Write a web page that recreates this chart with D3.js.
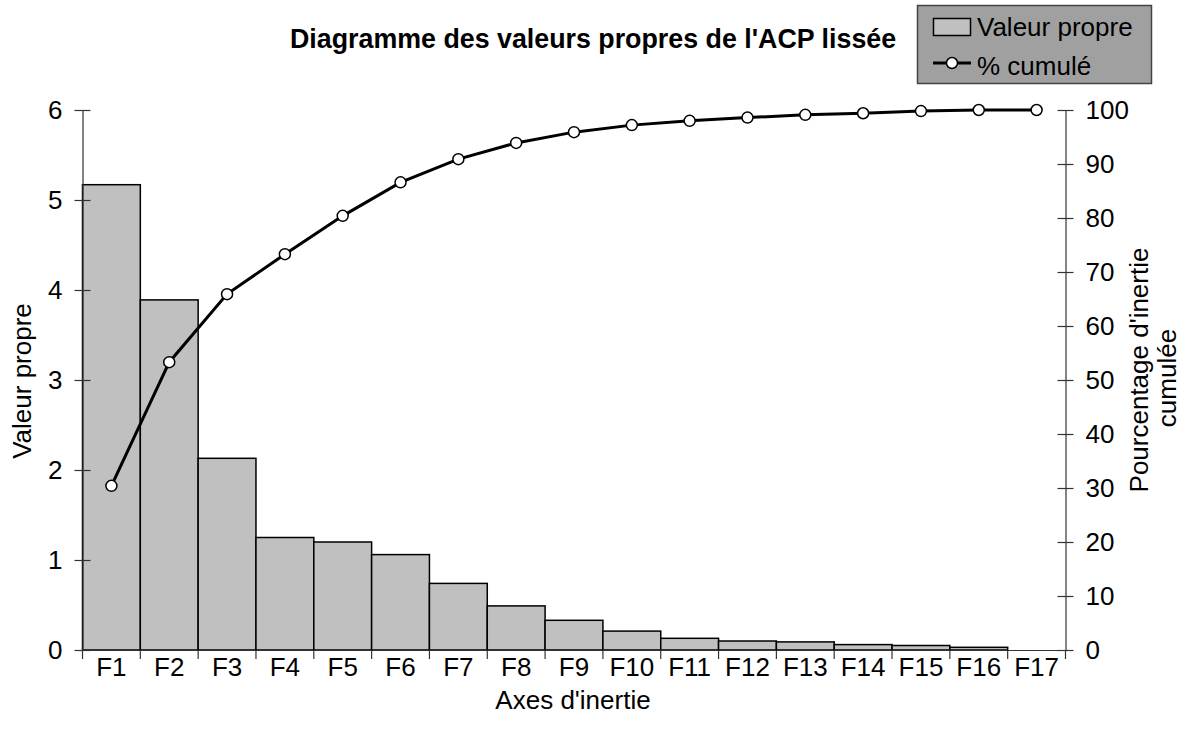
<!DOCTYPE html>
<html>
<head>
<meta charset="utf-8">
<script src="https://cdn.jsdelivr.net/npm/d3@7"></script>
<style>
  html, body { margin: 0; padding: 0; background: #fff; }
  svg { display: block; font-family: "Liberation Sans", Arial, sans-serif; }
  .axis text { font-size: 26px; fill: #000; font-family: "Liberation Sans", Arial, sans-serif; }
  .axis path, .axis line { stroke: #333; stroke-width: 1.2; }
</style>
</head>
<body>
<svg id="chart" width="1184" height="735"></svg>
<script>
'use strict';

// data
const axes = ['F1', 'F2', 'F3', 'F4', 'F5', 'F6', 'F7', 'F8', 'F9',
  'F10', 'F11', 'F12', 'F13', 'F14', 'F15', 'F16', 'F17'];
const eigenValues = [5.17, 3.89, 2.13, 1.25, 1.2, 1.06, 0.74, 0.49, 0.33,
  0.21, 0.13, 0.1, 0.09, 0.06, 0.05, 0.03, 0];
const cumulPct = [30.4, 53.3, 65.9, 73.3, 80.4, 86.6, 90.9, 93.9, 95.9,
  97.2, 98.0, 98.6, 99.1, 99.4, 99.8, 100, 100];
const leftTicks = [0, 1, 2, 3, 4, 5, 6];
const rightTicks = [0, 10, 20, 30, 40, 50, 60, 70, 80, 90, 100];

(function() {
  const svg = d3.select('#chart');

  const pLeft = 82.5;
  const pRight = 1065.5;
  const pTop = 110;
  const pBottom = 650;

  const x = d3.scaleBand().domain(axes).range([pLeft, pRight]).padding(0);
  const yL = d3.scaleLinear().domain([0, 6]).range([pBottom, pTop]);
  const yR = d3.scaleLinear().domain([0, 100]).range([pBottom, pTop]);

  // bars
  svg
    .append('g')
    .selectAll('rect')
    .data(axes)
    .enter()
    .append('rect')
    .attr('x', (d) => x(d))
    .attr('y', (d, i) => yL(eigenValues[i]))
    .attr('width', x.bandwidth())
    .attr('height', (d, i) => pBottom - yL(eigenValues[i]))
    .attr('fill', '#c0c0c0')
    .attr('stroke', '#000')
    .attr('stroke-width', 1.5);

  // left axis (ticks cross the line)
  const gL = svg
    .append('g')
    .attr('class', 'axis')
    .attr('transform', `translate(${pLeft},0)`)
    .call(
      d3
        .axisLeft(yL)
        .tickValues(leftTicks)
        .tickFormat(d3.format('d'))
        .tickSize(8)
        .tickSizeOuter(0)
        .tickPadding(12)
    );
  gL.selectAll('.tick line').attr('x1', 8).attr('x2', -8);

  // right axis
  const gR = svg
    .append('g')
    .attr('class', 'axis')
    .attr('transform', `translate(${pRight},0)`)
    .call(
      d3
        .axisRight(yR)
        .tickValues(rightTicks)
        .tickFormat(d3.format('d'))
        .tickSize(8)
        .tickSizeOuter(0)
        .tickPadding(12)
    );
  gR.selectAll('.tick line').attr('x1', -8).attr('x2', 8);

  // bottom axis: labels centred, ticks on category borders
  const gB = svg
    .append('g')
    .attr('class', 'axis')
    .attr('transform', `translate(0,${pBottom})`)
    .call(d3.axisBottom(x).tickSize(0).tickSizeOuter(0).tickPadding(8));
  gB.select('.domain').attr('stroke', '#000');

  gB
    .selectAll('line.border')
    .data(axes.map((d) => x(d)).concat([pRight]))
    .enter()
    .append('line')
    .attr('class', 'border')
    .attr('x1', (d) => d)
    .attr('x2', (d) => d)
    .attr('y1', 0)
    .attr('y2', 9);

  // cumulative line
  const line = d3
    .line()
    .x((d, i) => x(axes[i]) + x.bandwidth() / 2)
    .y((d) => yR(d));

  svg
    .append('path')
    .datum(cumulPct)
    .attr('d', line)
    .attr('fill', 'none')
    .attr('stroke', '#000')
    .attr('stroke-width', 3);

  svg
    .append('g')
    .selectAll('circle')
    .data(cumulPct)
    .enter()
    .append('circle')
    .attr('cx', (d, i) => x(axes[i]) + x.bandwidth() / 2)
    .attr('cy', (d) => yR(d))
    .attr('r', 5.5)
    .attr('fill', '#fff')
    .attr('stroke', '#000')
    .attr('stroke-width', 1.5);

  // titles
  svg
    .append('text')
    .attr('x', 290)
    .attr('y', 48)
    .attr('font-size', 26.8)
    .attr('font-weight', 'bold')
    .text("Diagramme des valeurs propres de l'ACP lissée");

  svg
    .append('text')
    .attr('x', 573)
    .attr('y', 709)
    .attr('text-anchor', 'middle')
    .attr('font-size', 26)
    .text("Axes d'inertie");

  svg
    .append('text')
    .attr('transform', 'translate(31,381) rotate(-90)')
    .attr('text-anchor', 'middle')
    .attr('font-size', 26)
    .text('Valeur propre');

  svg
    .append('text')
    .attr('transform', 'translate(1148,370) rotate(-90)')
    .attr('text-anchor', 'middle')
    .attr('font-size', 26)
    .text("Pourcentage d'inertie");

  svg
    .append('text')
    .attr('transform', 'translate(1176,378) rotate(-90)')
    .attr('text-anchor', 'middle')
    .attr('font-size', 26)
    .text('cumulée');

  // legend
  const lg = svg.append('g');
  lg.append('rect')
    .attr('x', 917.5)
    .attr('y', 5.5)
    .attr('width', 234)
    .attr('height', 78)
    .attr('fill', '#a0a0a0')
    .attr('stroke', '#444')
    .attr('stroke-width', 1.5);
  lg.append('rect')
    .attr('x', 933.5)
    .attr('y', 18.5)
    .attr('width', 37)
    .attr('height', 17)
    .attr('fill', '#c0c0c0')
    .attr('stroke', '#000')
    .attr('stroke-width', 1.5);
  lg.append('text')
    .attr('x', 977)
    .attr('y', 36)
    .attr('font-size', 26)
    .text('Valeur propre');
  lg.append('line')
    .attr('x1', 933)
    .attr('x2', 971)
    .attr('y1', 63)
    .attr('y2', 63)
    .attr('stroke', '#000')
    .attr('stroke-width', 3);
  lg.append('circle')
    .attr('cx', 952)
    .attr('cy', 63)
    .attr('r', 5.5)
    .attr('fill', '#fff')
    .attr('stroke', '#000')
    .attr('stroke-width', 1.5);
  lg.append('text')
    .attr('x', 977)
    .attr('y', 75)
    .attr('font-size', 26)
    .text('% cumulé');
})();
</script>
</body>
</html>
